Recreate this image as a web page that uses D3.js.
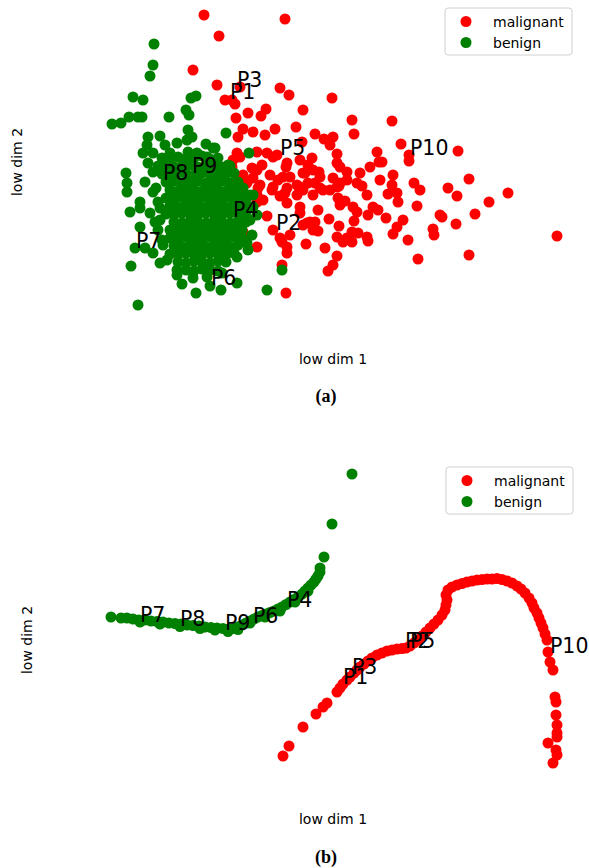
<!DOCTYPE html>
<html><head><meta charset="utf-8">
<script src="https://cdn.jsdelivr.net/npm/d3@7"></script>
<style>body{margin:0;background:#fff}svg{display:block}</style>
</head><body>
<script>
const categories = ["malignant", "benign"];
const colors = ["#ff0000", "#008000"];
const pointLabels = ["P1","P2","P3","P4","P5","P6","P7","P8","P9","P10"];

// Panel (a): raw low-dimensional embedding
const malignantA = [[20.4,-1.5],[28.5,-1.9],[21.9,-3.6],[19.3,-7.0],[21.7,-8.5],[22.5,-10.0],[23.2,-10.0],[23.5,-10.4],[24.0,-8.7],[28.0,-8.8],[28.9,-9.5],[33.2,-9.8],[23.6,-11.8],[24.8,-11.3],[26.1,-11.6],[26.6,-10.9],[30.3,-11.0],[29.6,-12.7],[24.3,-12.9],[25.3,-13.2],[26.5,-13.5],[27.5,-12.9],[23.8,-13.7],[31.5,-13.4],[32.4,-13.9],[33.3,-13.7],[33.0,-14.5],[30.2,-14.2],[35.2,-12.0],[35.4,-13.4],[39.2,-12.1],[40.1,-14.4],[45.8,-15.1],[37.7,-15.2],[37.9,-16.2],[40.9,-15.5],[40.9,-16.1],[23.7,-15.3],[25.7,-15.2],[26.7,-15.3],[27.7,-15.5],[31.2,-15.8],[33.7,-15.4],[33.7,-16.3],[23.3,-16.0],[24.0,-15.7],[23.2,-16.7],[25.2,-16.8],[26.2,-16.5],[28.6,-16.7],[30.5,-17.3],[31.3,-17.0],[34.7,-17.2],[36.0,-17.3],[37.0,-16.7],[38.2,-16.2],[39.3,-17.5],[38.0,-18.0],[24.3,-17.5],[25.3,-17.8],[27.0,-17.5],[27.8,-18.0],[29.0,-17.7],[29.7,-18.5],[30.8,-18.3],[32.0,-18.8],[33.7,-18.7],[34.7,-18.0],[35.7,-18.3],[36.7,-19.5],[39.2,-18.5],[39.7,-19.3],[25.8,-18.8],[27.2,-19.0],[28.5,-19.3],[30.8,-16.5],[31.9,-17.2],[46.9,-17.9],[41.4,-18.3],[31.5,-18.3],[33.3,-17.8],[33.9,-18.6],[36.2,-18.6],[44.8,-18.8],[50.8,-19.3],[45.7,-19.6],[48.9,-20.2],[38.8,-19.4],[30.3,-19.0],[32.3,-19.0],[31.3,-19.5],[33.8,-19.8],[34.5,-20.1],[39.8,-20.2],[41.7,-20.6],[37.3,-20.7],[35.3,-20.7],[31.8,-21.0],[30.0,-21.3],[35.7,-21.2],[37.8,-21.0],[36.8,-21.5],[47.5,-21.4],[32.9,-21.9],[35.4,-22.1],[30.7,-22.3],[31.5,-22.2],[44.2,-21.7],[45.6,-22.4],[33.9,-22.6],[39.7,-22.7],[43.3,-22.9],[43.4,-23.5],[31.8,-23.1],[39.3,-23.4],[33.7,-23.7],[35.2,-23.2],[35.8,-23.3],[36.7,-23.7],[36.8,-24.1],[34.3,-24.2],[35.2,-24.2],[40.8,-24.0],[55.7,-23.6],[30.6,-24.4],[32.5,-24.8],[33.7,-25.6],[41.8,-25.9],[46.9,-25.5],[33.3,-26.5],[32.8,-27.1],[27.3,-15.7],[28.7,-16.3],[30.0,-16.0],[34.0,-16.7],[25.7,-17.0],[28.3,-17.7],[30.3,-17.3],[32.0,-17.7],[34.0,-18.3],[24.7,-18.3],[26.0,-18.5],[27.3,-18.7],[28.7,-18.8],[30.0,-18.7],[33.0,-19.0],[25.7,-19.5],[28.0,-19.6],[29.7,-19.5],[26.3,-20.0],[28.7,-20.3],[30.0,-20.7],[34.0,-20.5],[26.7,-21.6],[31.0,-22.2],[27.3,-23.0],[29.0,-23.5],[28.0,-23.8],[30.3,-22.5],[31.3,-23.0],[34.7,-23.8],[28.2,-24.2],[28.7,-24.7],[25.7,-24.7],[24.3,-23.2],[28.7,-25.3],[28.2,-26.5],[28.6,-29.3],[25.7,-20.2],[42.0,-19.0],[44.0,-21.5],[38.6,-21.8],[40.3,-22.0]];

const benignA = [[15.4,-4.4],[15.3,-6.5],[15.0,-7.6],[13.3,-9.7],[14.3,-10.0],[19.1,-9.8],[19.6,-9.6],[11.2,-12.4],[12.1,-12.3],[12.9,-11.7],[13.8,-11.7],[14.2,-11.7],[16.9,-11.7],[18.6,-11.0],[18.9,-11.5],[22.6,-13.3],[18.8,-13.0],[14.8,-13.7],[16.0,-13.6],[14.7,-14.5],[16.5,-14.5],[17.7,-14.3],[18.7,-14.0],[19.2,-13.7],[20.6,-14.4],[21.5,-14.8],[14.3,-15.3],[15.3,-15.3],[17.0,-15.3],[18.8,-15.2],[19.7,-15.3],[24.9,-15.3],[12.6,-17.3],[12.7,-18.3],[12.7,-19.2],[13.0,-21.2],[13.5,-24.8],[13.1,-26.6],[13.8,-30.5],[18.2,-28.4],[19.6,-29.3],[21.0,-28.6],[22.1,-29.0],[23.7,-28.3],[26.7,-29.0],[28.2,-27.0],[25.0,-19.5],[24.3,-18.8],[23.7,-18.2],[21.8,-16.7],[20.7,-15.7],[21.3,-14.8],[14.8,-16.3],[14.5,-18.2],[15.3,-17.2],[15.3,-19.2],[14.0,-20.2],[14.0,-20.8],[15.0,-21.3],[15.5,-22.2],[14.0,-22.7],[14.5,-24.8],[15.3,-25.3],[16.3,-24.5],[16.0,-26.3],[16.7,-26.0],[17.7,-27.0],[17.7,-27.5],[19.3,-27.8],[20.7,-27.7],[22.2,-27.3],[23.7,-25.7],[24.7,-24.3],[25.2,-23.5],[24.0,-23.0],[25.0,-22.0],[25.7,-21.5],[25.3,-20.7],[25.3,-19.5],[22.8,-16.5],[15.8,-20.2],[24.8,-25.0],[15.6,-18.8],[16.0,-20.8],[15.8,-23.0],[16.2,-24.0],[16.0,-22.0],
[16.2,-15.8],[17.0,-15.9],[17.8,-15.7],[18.6,-15.9],[19.4,-15.8],[20.2,-15.6],[21.0,-15.9],[21.8,-15.8],
[15.8,-16.6],[16.6,-16.5],[17.4,-16.7],[18.2,-16.6],[19.0,-16.5],[19.8,-16.7],[20.6,-16.6],[21.4,-16.5],[22.2,-16.7],[23.0,-16.6],
[16.2,-17.4],[17.0,-17.5],[17.8,-17.3],[18.6,-17.4],[19.4,-17.5],[20.2,-17.3],[21.0,-17.4],[21.8,-17.5],[22.6,-17.4],[23.4,-17.3],
[16.6,-18.2],[17.4,-18.1],[18.2,-18.3],[19.0,-18.2],[19.8,-18.1],[20.6,-18.3],[21.4,-18.2],[22.2,-18.1],[23.0,-18.3],[23.8,-18.2],
[17.0,-19.0],[17.8,-19.1],[18.6,-18.9],[19.4,-19.0],[20.2,-19.1],[21.0,-18.9],[21.8,-19.0],[22.6,-19.1],[23.4,-18.9],[24.2,-19.0],
[16.6,-19.8],[17.4,-19.9],[18.2,-19.7],[19.0,-19.8],[19.8,-19.9],[20.6,-19.7],[21.4,-19.8],[22.2,-19.9],[23.0,-19.7],[23.8,-19.8],[24.6,-19.9],
[17.0,-20.6],[17.8,-20.7],[18.6,-20.5],[19.4,-20.6],[20.2,-20.7],[21.0,-20.5],[21.8,-20.6],[22.6,-20.7],[23.4,-20.5],[24.2,-20.6],[25.0,-20.7],
[16.6,-21.4],[17.4,-21.5],[18.2,-21.3],[19.0,-21.4],[19.8,-21.5],[20.6,-21.3],[21.4,-21.4],[22.2,-21.5],[23.0,-21.3],[23.8,-21.4],[24.6,-21.5],
[17.4,-22.2],[18.2,-22.3],[19.0,-22.1],[19.8,-22.2],[20.6,-22.3],[21.4,-22.1],[22.2,-22.2],[23.0,-22.3],[23.8,-22.1],[24.6,-22.2],
[17.0,-23.0],[17.8,-23.1],[18.6,-22.9],[19.4,-23.0],[20.2,-23.1],[21.0,-22.9],[21.8,-23.0],[22.6,-23.1],[23.4,-22.9],[24.2,-23.0],
[17.0,-23.8],[17.8,-23.9],[18.6,-23.7],[19.4,-23.8],[20.2,-23.9],[21.0,-23.7],[21.8,-23.8],[22.6,-23.9],[23.4,-23.7],[24.2,-23.8],
[17.4,-24.6],[18.2,-24.7],[19.0,-24.5],[19.8,-24.6],[20.6,-24.7],[21.4,-24.5],[22.2,-24.6],[23.0,-24.7],[23.8,-24.5],
[17.0,-25.4],[17.8,-25.5],[18.6,-25.3],[19.4,-25.4],[20.2,-25.5],[21.0,-25.3],[21.8,-25.4],[22.6,-25.5],[23.4,-25.3],
[17.8,-26.2],[18.6,-26.3],[19.4,-26.1],[20.2,-26.2],[21.0,-26.3],[21.8,-26.1],[22.6,-26.2],
[18.6,-27.0],[19.4,-27.1],[20.2,-26.9],[21.0,-27.0],[21.8,-27.1]];

const labelPosA = [[23.0,-9.9],[27.6,-23.0],[23.7,-8.7],[23.3,-21.7],[28.0,-15.5],[21.1,-28.5],[13.6,-24.8],[16.3,-18.0],[19.2,-17.3],[41.0,-15.5]];

// Panel (b): learned low-dimensional embedding
const malignantB = [[28.3,-29.6],[28.9,-28.6],[30.3,-26.7],[31.6,-25.4],[32.3,-24.7],[32.7,-24.3],[33.7,-23.2],[34.0,-22.8],[34.3,-22.4],[34.7,-22.0],[35.0,-21.7],[35.4,-21.3],[35.7,-21.0],[36.0,-20.7],[36.4,-20.4],[36.8,-20.1],[37.2,-19.8],[37.7,-19.5],[38.2,-19.3],[38.7,-19.1],[39.2,-19.0],[39.7,-18.9],[40.2,-18.85],[40.6,-18.8],[41.0,-18.6],[41.4,-18.3],[41.8,-18.0],[42.2,-17.6],[42.6,-17.2],[43.0,-16.8],[43.4,-16.4],[43.8,-16.0],[44.2,-15.5],[44.5,-15.0],[44.6,-14.5],[44.7,-14.0],[44.6,-13.5],[44.8,-13.0],[45.2,-12.7],[45.7,-12.5],[46.2,-12.35],[46.7,-12.2],[47.2,-12.1],[47.7,-12.0],[48.2,-11.95],[48.7,-11.9],[49.2,-11.9],[49.7,-11.85],[50.2,-11.95],[50.7,-12.1],[51.2,-12.3],[51.7,-12.6],[52.1,-12.9],[52.5,-13.3],[52.9,-13.8],[53.2,-14.3],[53.4,-14.8],[53.7,-15.3],[53.9,-15.8],[54.1,-16.3],[54.3,-16.8],[54.5,-17.4],[54.7,-18.0],[54.8,-19.2],[55.0,-20.2],[55.3,-21.0],[55.5,-23.7],[55.6,-24.2],[55.6,-25.5],[55.7,-26.5],[55.7,-27.3],[55.7,-27.7],[54.8,-28.3],[55.6,-29.0],[55.7,-29.5],[55.3,-30.3]];

const benignB = [[11.1,-15.7],[12.1,-15.8],[12.7,-15.8],[13.3,-15.9],[13.9,-16.0],[14.5,-16.0],[15.1,-16.1],[15.7,-16.15],[16.3,-16.2],[16.9,-16.3],[17.5,-16.35],[18.1,-16.4],[18.7,-16.5],[19.3,-16.55],[19.9,-16.6],[20.5,-16.7],[21.1,-16.75],[21.7,-16.8],[22.3,-16.85],[22.9,-16.9],[23.4,-16.85],[23.8,-16.7],[24.2,-16.5],[24.6,-16.3],[25.0,-16.1],[25.4,-15.9],[25.8,-15.7],[26.2,-15.55],[26.6,-15.4],[27.0,-15.25],[27.4,-15.1],[27.8,-14.9],[28.2,-14.7],[28.6,-14.45],[29.0,-14.2],[29.4,-13.95],[29.8,-13.7],[30.2,-13.4],[30.5,-13.1],[30.8,-12.8],[31.1,-12.5],[31.4,-12.2],[31.6,-11.9],[31.8,-11.6],[32.0,-11.2],[32.0,-10.8],[32.4,-9.7],[33.2,-6.4],[35.2,-1.4],[14.0,-16.2],[16.0,-16.4],[18.0,-16.65],[20.0,-16.85],[21.5,-17.0],[22.8,-17.15],[23.8,-16.95],[25.0,-16.3],[26.5,-15.7],[28.0,-15.1],[29.5,-14.2],[30.8,-13.1]];

const labelPosB = [[34.3,-22.4],[40.5,-18.8],[35.2,-21.4],[28.7,-14.7],[41.0,-18.8],[25.3,-16.3],[14.0,-16.2],[18.0,-16.6],[22.5,-17.0],[55.0,-19.3]];

const axisLabelX = "low dim 1", axisLabelY = "low dim 2";
const captions = ["(a)", "(b)"];

const W = 589, H = 868;
const svg = d3.select("body").append("svg").attr("width", W).attr("height", H);

const panels = [
  {red: malignantA, green: benignA, labels: labelPosA, top: 0, legend: {x: 445, y: 8}, xl: 364, cap: 402, ylx: 22, yly: 162},
  {red: malignantB, green: benignB, labels: labelPosB, top: 460, legend: {x: 446, y: 467}, xl: 824, cap: 863, ylx: 32, yly: 640}
];

const x = d3.scaleLinear().domain([0, 58.9]).range([0, 589]);

panels.forEach((p, i) => {
  const y = d3.scaleLinear().domain([0, -32]).range([p.top, p.top + 320]);
  const g = svg.append("g");
  [[p.red, colors[0]], [p.green, colors[1]]].forEach(([data, c]) => {
    g.append("g").selectAll("circle").data(data).join("circle")
      .attr("cx", d => x(d[0])).attr("cy", d => y(d[1]))
      .attr("r", 5.5).attr("fill", c);
  });
  g.append("g").selectAll("text").data(p.labels).join("text")
    .attr("x", d => x(d[0])).attr("y", d => y(d[1]))
    .attr("font-family", "DejaVu Sans").attr("font-size", 20.5).attr("fill", "#000")
    .text((d, k) => pointLabels[k]);

  // legend
  const lg = svg.append("g").attr("transform", `translate(${p.legend.x},${p.legend.y})`);
  lg.append("rect").attr("width", 127).attr("height", 47).attr("rx", 3)
    .attr("fill", "#fff").attr("fill-opacity", 0.8).attr("stroke", "#d0d0d0").attr("stroke-width", 1);
  categories.forEach((cat, k) => {
    lg.append("circle").attr("cx", 21).attr("cy", 13.5 + k * 21).attr("r", 5.5).attr("fill", colors[k]);
    lg.append("text").attr("x", 48).attr("y", 18.5 + k * 21)
      .attr("font-family", "DejaVu Sans").attr("font-size", 14).attr("fill", "#000").text(cat);
  });

  svg.append("text").attr("x", 333).attr("y", p.xl).attr("text-anchor", "middle")
    .attr("font-family", "DejaVu Sans").attr("font-size", 14).text(axisLabelX);
  svg.append("text").attr("transform", `translate(${p.ylx},${p.yly}) rotate(-90)`).attr("text-anchor", "middle")
    .attr("font-family", "DejaVu Sans").attr("font-size", 14).text(axisLabelY);
  svg.append("text").attr("x", 326).attr("y", p.cap).attr("text-anchor", "middle")
    .attr("font-family", "Liberation Serif").attr("font-weight", "bold").attr("font-size", 18).text(captions[i]);
});
</script>
</body></html>
